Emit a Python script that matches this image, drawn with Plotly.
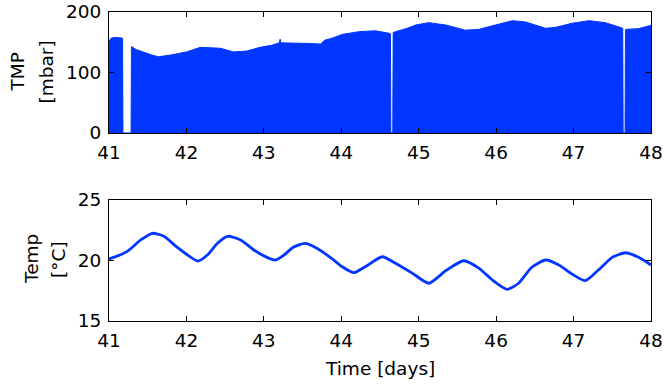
import plotly.graph_objects as go

# TMP (mbar) vs time (days) -- zeros mark gaps
tmp_days = [41.00, 41.03, 41.08, 41.17, 41.175, 41.18, 41.285, 41.29, 41.35, 41.45, 41.55, 41.64,
            41.80, 42.00, 42.18, 42.30, 42.44, 42.61, 42.78, 42.95, 43.10, 43.20, 43.21, 43.22,
            43.35, 43.47, 43.60, 43.73, 43.79, 43.88, 44.01, 44.23, 44.44, 44.62, 44.635, 44.64,
            44.665, 44.67, 44.70, 44.85, 44.96, 45.13, 45.35, 45.60, 45.78, 45.99, 46.21, 46.38,
            46.64, 46.77, 46.98, 47.20, 47.41, 47.60, 47.635, 47.64, 47.665, 47.67, 47.69, 47.84,
            47.99, 48.00]
tmp_vals = [152, 157, 158, 157, 155, 0, 0, 143, 138, 133, 129, 126,
            129, 134, 141.6, 141, 140, 134, 135.5, 141.6, 145, 149, 155, 149,
            149, 148, 148, 147, 153.7, 156.5, 163, 167.5, 169, 164.8, 164, 0,
            0, 166, 167.5, 173, 178.5, 182.4, 178.5, 170, 171.4, 178.5, 185.7, 183.5,
            173, 174.7, 181.3, 185.7, 182.4, 174.7, 173, 0,
            0, 171, 171.4, 172.5,
            177, 178]

# Temperature (deg C) vs time (days)
temp_days = [41.00, 41.02, 41.23, 41.41, 41.56, 41.71, 41.87, 42.05, 42.15, 42.27, 42.40, 42.53,
             42.70, 42.87, 43.04, 43.15, 43.26, 43.38, 43.53, 43.69, 43.88, 44.01, 44.16, 44.31,
             44.53, 44.70, 44.92, 45.13, 45.35, 45.58, 45.78, 45.95, 46.14, 46.29, 46.46, 46.64,
             46.81, 46.98, 47.15, 47.32, 47.50, 47.67, 47.84, 48.00]
temp_vals = [20.15, 20.18, 20.73, 21.7, 22.25, 22.0, 21.14, 20.3, 19.96, 20.45, 21.42, 22.0,
             21.7, 20.87, 20.26, 20.04, 20.45, 21.09, 21.42, 21.0, 20.15, 19.49, 18.99, 19.49,
             20.31, 19.77, 18.94, 18.12, 19.16, 19.98, 19.35, 18.39, 17.62, 18.12, 19.44, 20.04,
             19.63, 18.88, 18.33, 19.21, 20.26, 20.64, 20.26, 19.63]

x_ticks = [41, 42, 43, 44, 45, 46, 47, 48]
tmp_ticks = [0, 100, 200]
temp_ticks = [15, 20, 25]

BLUE = "#0036ff"
FONT = "DejaVu Sans, sans-serif"
FS = 18.5

W, H = 664, 386
L, R, T, B = 109, 13, 12, 65
PW = W - L - R
PH = H - T - B


def px_x(px):
    return (px - L) / PW


def px_y(py):
    return (H - B - py) / PH


fig = go.Figure()
fig.add_trace(go.Scatter(x=tmp_days, y=tmp_vals, mode="lines", fill="tozeroy",
                         line=dict(color=BLUE, width=1), fillcolor=BLUE,
                         xaxis="x", yaxis="y", showlegend=False))
fig.add_trace(go.Scatter(x=temp_days, y=temp_vals, mode="lines",
                         line=dict(color=BLUE, width=2.8, shape="spline", smoothing=0.6),
                         xaxis="x2", yaxis="y2", showlegend=False))

axis_common = dict(showgrid=False, zeroline=False, showline=True, linecolor="black",
                   linewidth=1, mirror="allticks", ticks="inside", ticklen=5,
                   tickcolor="black", automargin=False,
                   tickfont=dict(size=FS, color="black", family=FONT))

titles = [
    ("TMP", 17, 72.5),
    ("[mbar]", 46, 72.5),
    ("Temp", 31, 259),
    ("[°C]", 58, 260),
]
annotations = []
for txt, xp, yp in titles:
    annotations.append(dict(text=txt, x=px_x(xp), y=px_y(yp), xref="paper", yref="paper",
                            xanchor="center", yanchor="middle", textangle=-90,
                            showarrow=False, font=dict(size=FS, family=FONT, color="black")))
annotations.append(dict(text="Time [days]", x=px_x(380), y=px_y(368), xref="paper", yref="paper",
                        xanchor="center", yanchor="middle", showarrow=False,
                        font=dict(size=FS, family=FONT, color="black")))

fig.update_layout(
    width=W, height=H,
    margin=dict(l=L, r=R, t=T, b=B),
    plot_bgcolor="white", paper_bgcolor="white",
    font=dict(family=FONT, color="black"),
    annotations=annotations,
    xaxis=dict(domain=[0, 1], range=[41, 48], tickvals=x_ticks, anchor="y",
               ticklabelstandoff=3, **axis_common),
    yaxis=dict(domain=[px_y(133), 1], range=[0, 200], tickvals=tmp_ticks, anchor="x",
               ticklabelstandoff=3, **axis_common),
    xaxis2=dict(domain=[0, 1], range=[41, 48], tickvals=x_ticks, anchor="y2",
                ticklabelstandoff=3, **axis_common),
    yaxis2=dict(domain=[0, px_y(200)], range=[15, 25], tickvals=temp_ticks, anchor="x2",
                ticklabelstandoff=3, **axis_common),
)

fig.write_html("out.html")
